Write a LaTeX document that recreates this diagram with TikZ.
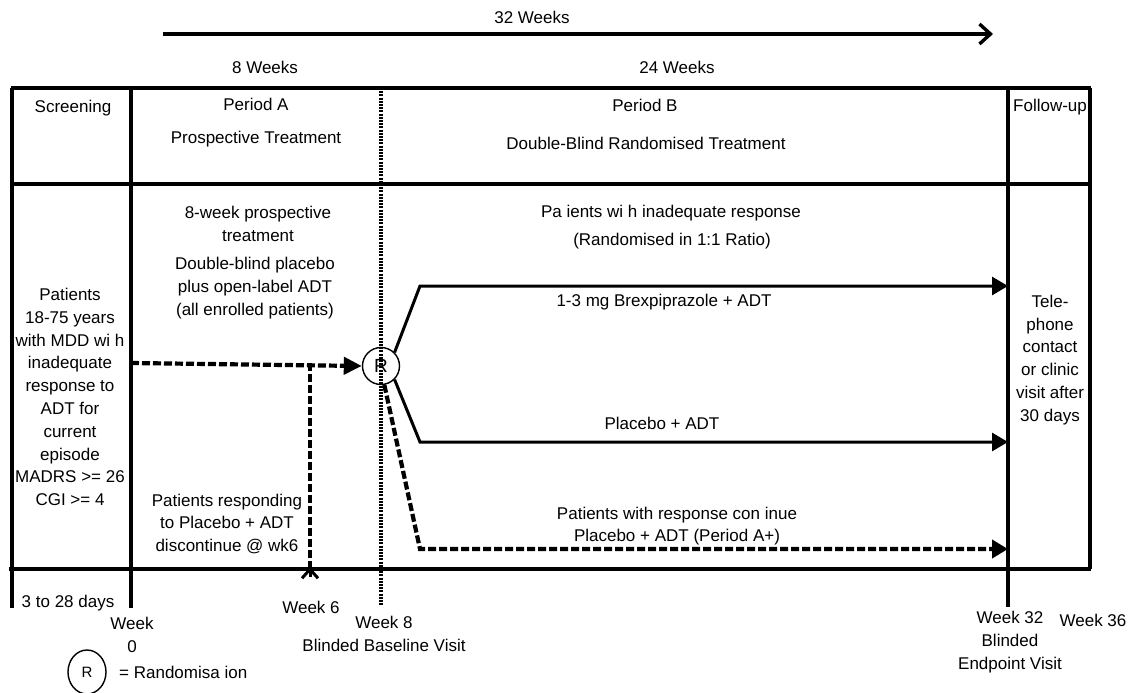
\documentclass[tikz,border=0pt]{standalone}
\usepackage{fontspec}
\setmainfont{Liberation Sans}
\usetikzlibrary{arrows.meta,shapes.geometric}
\begin{document}
\begin{tikzpicture}[x=1pt,y=-1pt,
  font=\fontsize{17}{22.8}\selectfont,
  txt/.style={inner sep=0pt,align=center},
  tbl/.style={line width=3.1pt},
  arr/.style={line width=3pt,-{Triangle[length=16pt,width=18pt]}},
  dsh/.style={line width=4.2pt,dash pattern=on 8pt off 3pt},
  dotl/.style={line width=3.2pt,dash pattern=on 2pt off 1.2pt}]
\useasboundingbox (0,0) rectangle (1133,693);
% coordinates of the table
\coordinate (tl) at (11,88);
\coordinate (tr) at (1091,88);
\coordinate (ml) at (11,184);
\coordinate (mr) at (1091,184);
\coordinate (bl) at (9,569);
\coordinate (br) at (1091,569);
\coordinate (v1t) at (12,88);   \coordinate (v1b) at (12,608);
\coordinate (v2t) at (131,88);  \coordinate (v2b) at (131,608);
\coordinate (v3t) at (381,88);  \coordinate (v3b) at (381,605);
\coordinate (v4t) at (1008,88); \coordinate (v4b) at (1008,607);
\coordinate (v5t) at (1090,88); \coordinate (v5b) at (1090,569);
% table lines
\draw[tbl] (tl) -- (tr);
\draw[tbl] (ml) -- (mr);
\draw[tbl] (bl) -- (br);
\draw[tbl] (v1t) -- (v1b);
\draw[tbl] (v2t) -- (v2b);
\draw[tbl] (v4t) -- (v4b);
\draw[tbl] (v5t) -- (v5b);
\draw[dotl] (v3t) -- (v3b);
% top arrow
\coordinate (ta) at (163,34);
\coordinate (tb) at (993,34);
\draw[line width=3.4pt,-{Straight Barb[length=11pt,width=20pt,line width=3.4pt]}] (ta) -- (tb);
% headings
\node[txt] (t32) at (532,17) {32 Weeks};
\node[txt] (t8) at (265,67) {8 Weeks};
\node[txt] (t24) at (677,67) {24 Weeks};
\node[txt] (scr) at (73,108) {Screening};
\node[txt] (pa) at (256,104) {Period A};
\node[txt] (pat) at (256,139) {Prospective Treatment};
\node[txt] (pb) at (645,105) {Period B};
\node[txt] (pbt) at (646,143) {Double-Blind Randomised Treatment};
\node[txt] (fu) at (1050,107) {Follow-up};
% body text
\node[txt] (pros) at (258,224) {8-week prospective\\treatment};
\node[txt] (dbp) at (255,288) {Double-blind placebo\\plus open-label ADT\\(all enrolled patients)};
\node[txt] (pts) at (70,397) {Patients\\18-75 years\\with MDD wi h\\inadequate\\response to\\ADT for\\current\\episode\\MADRS >= 26\\CGI >= 4};
\node[txt] (resp) at (227,524) {Patients responding\\to Placebo + ADT\\discontinue @ wk6};
\node[txt] (pinad) at (671,213) {Pa ients wi h inadequate response};
\node[txt] (rand) at (672,241) {(Randomised in 1:1 Ratio)};
\node[txt] (brex) at (664,302) {1-3 mg Brexpiprazole + ADT};
\node[txt] (plac) at (662,423) {Placebo + ADT};
\node[txt] (cont) at (677,526) {Patients with response con inue\\Placebo + ADT (Period A+)};
\node[txt] (tel) at (1050,360) {Tele-\\phone\\contact\\or clinic\\visit after\\30 days};
% randomisation node
\node[circle,draw,line width=1.4pt,minimum size=37pt,inner sep=0pt,font=\fontsize{19}{20}\selectfont] (R) at (381,366) {R};
% connectors
\coordinate (s0) at (131,363);
\coordinate (s6) at (310,363);
\coordinate (s6b) at (310,567);
\draw[dsh,-{Triangle[length=18pt,width=17pt]}] (s0) -- (R.west);
\draw[dsh] (s6) -- (s6b);
\draw[line width=3pt,-{Straight Barb[length=9pt,width=16pt,line width=3pt]}] ([yshift=-10pt]s6b) -- (s6b);
\coordinate (k1) at (420,286);
\coordinate (e1) at (1008,286);
\coordinate (k2) at (420,442);
\coordinate (e2) at (1008,442);
\coordinate (k3) at (420,549);
\coordinate (e3) at (1008,549);
\draw[arr] (R.45) -- (k1) -- (e1);
\draw[arr] (R.-45) -- (k2) -- (e2);
\draw[dsh,-{Triangle[length=16pt,width=18pt]}] (R.-80) -- (k3) -- (e3);
% bottom labels
\node[txt] (d328) at (68,603) {3 to 28 days};
\node[txt] (w0) at (132,635) {Week\\0};
\node[txt] (w6) at (311,607) {Week 6};
\node[txt] (w8) at (384,634) {Week 8\\Blinded Baseline Visit};
\node[txt] (w32) at (1010,642) {Week 32\\Blinded\\Endpoint Visit};
\node[txt] (w36) at (1093,620) {Week 36};
\node[ellipse,draw,line width=1.4pt,minimum width=38pt,minimum height=44pt,inner sep=0pt,font=\fontsize{15}{16}\selectfont] (leg) at (87,672) {R};
\node[txt,anchor=west] (legt) at (119,672) {= Randomisa ion};
\end{tikzpicture}
\end{document}
